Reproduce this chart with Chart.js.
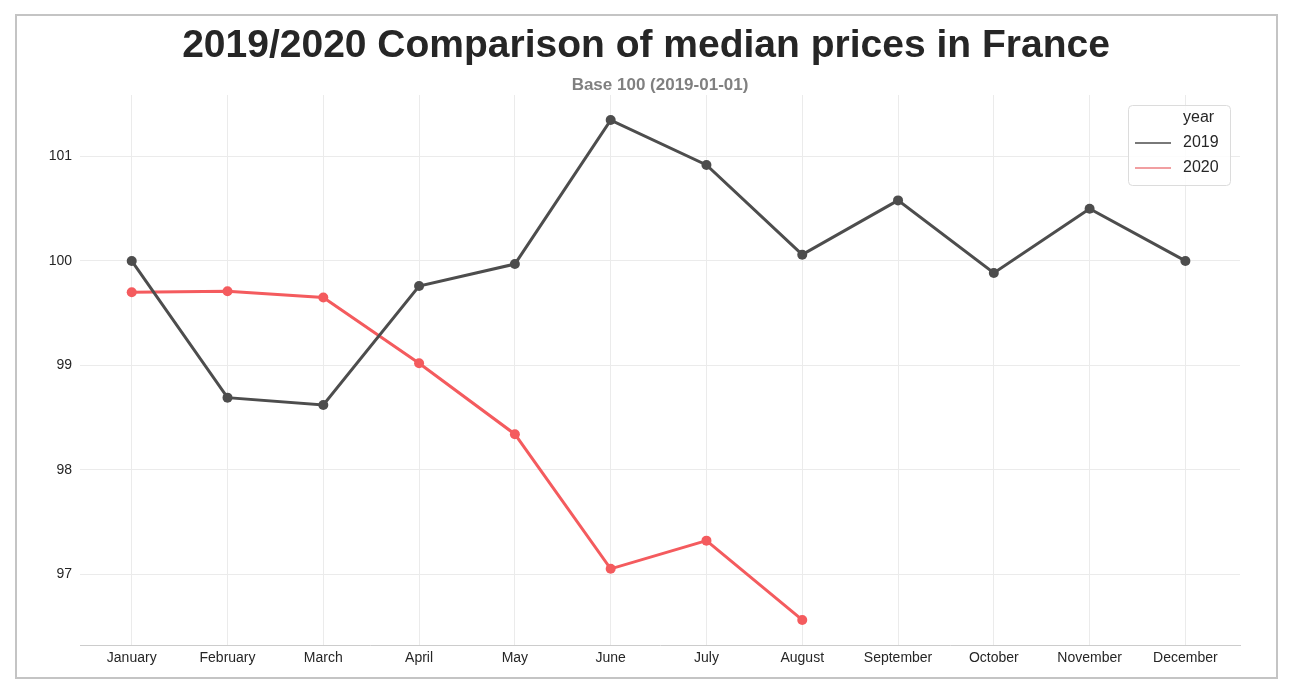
<!DOCTYPE html>
<html>
<head>
<meta charset="utf-8">
<script src="https://cdn.jsdelivr.net/npm/chart.js@4"></script>
<style>
  html, body { margin: 0; padding: 0; background: #fff; }
  #wrap { width: 1292px; height: 690px; position: relative; }
</style>
</head>
<body>
<div id="wrap"><canvas id="c" width="1292" height="690"></canvas></div>
<script>
const months = ["January","February","March","April","May","June","July","August","September","October","November","December"];
const values2019 = [100.0, 98.69, 98.62, 99.76, 99.97, 101.35, 100.92, 100.06, 100.58, 99.885, 100.50, 100.0];
const values2020 = [99.70, 99.71, 99.65, 99.02, 98.34, 97.05, 97.32, 96.56];
const yTicks = [97, 98, 99, 100, 101];
const seriesLabels = ["2019", "2020"];
const legendTitle = "year";
const titleText = "2019/2020 Comparison of median prices in France";
const subtitleText = "Base 100 (2019-01-01)";

const FONT = "'Liberation Sans', Arial, Helvetica, sans-serif";
Chart.defaults.font.family = FONT;

const toPoints = arr => arr.map((v, i) => ({ x: i, y: v }));

const frame = {
  id: 'frame',
  beforeDraw(chart) {
    const ctx = chart.ctx;
    ctx.save();
    ctx.fillStyle = '#fff';
    ctx.fillRect(0, 0, chart.width, chart.height);
    ctx.strokeStyle = '#c4c4c4';
    ctx.lineWidth = 2;
    ctx.strokeRect(16, 15, 1261, 663);
    ctx.restore();
  }
};

const titles = {
  id: 'titles',
  afterDraw(chart) {
    const ctx = chart.ctx;
    const ca = chart.chartArea;
    ctx.save();
    ctx.textAlign = 'center';
    ctx.textBaseline = 'alphabetic';
    ctx.fillStyle = '#262626';
    ctx.font = "bold 39px " + FONT;
    ctx.fillText(titleText, chart.width / 2, 57);
    ctx.fillStyle = '#808080';
    ctx.font = "bold 17px " + FONT;
    ctx.fillText(subtitleText, (ca.left + ca.right) / 2, 90);
    ctx.restore();
  }
};

const customLegend = {
  id: 'customLegend',
  afterDraw(chart) {
    const ctx = chart.ctx;
    const x0 = 1128, y0 = 105, w = 102, h = 80;
    ctx.save();
    ctx.fillStyle = 'rgba(255,255,255,0.85)';
    ctx.strokeStyle = '#dcdcdc';
    ctx.lineWidth = 1;
    ctx.beginPath();
    ctx.roundRect(x0 + 0.5, y0 + 0.5, w, h, 4);
    ctx.fill();
    ctx.stroke();
    ctx.font = "16px " + FONT;
    ctx.fillStyle = '#262626';
    ctx.textBaseline = 'middle';
    ctx.textAlign = 'left';
    ctx.fillText(legendTitle, 1183, 118);
    chart.data.datasets.forEach((ds, i) => {
      const y = 143 + i * 25;
      ctx.strokeStyle = ds.legendColor;
      ctx.lineWidth = 1.5;
      ctx.beginPath();
      ctx.moveTo(1135, y);
      ctx.lineTo(1171, y);
      ctx.stroke();
      ctx.fillStyle = '#262626';
      ctx.fillText(ds.label, 1183, y);
    });
    ctx.restore();
  }
};

new Chart(document.getElementById('c'), {
  type: 'line',
  data: {
    datasets: [
      {
        label: seriesLabels[0],
        data: toPoints(values2019),
        borderColor: '#4d4d4d',
        backgroundColor: '#4d4d4d',
        legendColor: '#4d4d4d',
        borderWidth: 3,
        pointRadius: 5,
        pointHoverRadius: 5,
        pointBorderWidth: 0,
        tension: 0
      },
      {
        label: seriesLabels[1],
        data: toPoints(values2020),
        borderColor: '#f45b5e',
        backgroundColor: '#f45b5e',
        legendColor: '#ec7f82',
        borderWidth: 3,
        pointRadius: 5,
        pointHoverRadius: 5,
        pointBorderWidth: 0,
        tension: 0
      }
    ]
  },
  options: {
    responsive: false,
    animation: false,
    devicePixelRatio: 1,
    layout: { padding: { left: 16, right: 52, top: 95, bottom: 0 } },
    plugins: {
      legend: { display: false },
      tooltip: { enabled: false },
      title: { display: false },
      subtitle: { display: false }
    },
    scales: {
      x: {
        type: 'linear',
        min: -0.54,
        max: 11.57,
        afterBuildTicks: axis => { axis.ticks = months.map((m, i) => ({ value: i })); },
        afterFit: scale => { scale.height = 45; },
        ticks: {
          autoSkip: false,
          maxRotation: 0,
          padding: 5,
          color: '#262626',
          font: { size: 14, family: FONT },
          callback: v => months[v]
        },
        grid: { color: '#ebebeb', lineWidth: 1, drawTicks: false },
        border: { display: true, color: '#cccccc', width: 1 }
      },
      y: {
        min: 96.32,
        max: 101.59,
        afterBuildTicks: axis => { axis.ticks = yTicks.map(v => ({ value: v })); },
        afterFit: scale => { scale.width = 64; },
        ticks: {
          padding: 8,
          color: '#262626',
          font: { size: 14, family: FONT },
          callback: v => String(v)
        },
        grid: { color: '#ebebeb', lineWidth: 1, drawTicks: false },
        border: { display: false }
      }
    }
  },
  plugins: [frame, titles, customLegend]
});
</script>
</body>
</html>
